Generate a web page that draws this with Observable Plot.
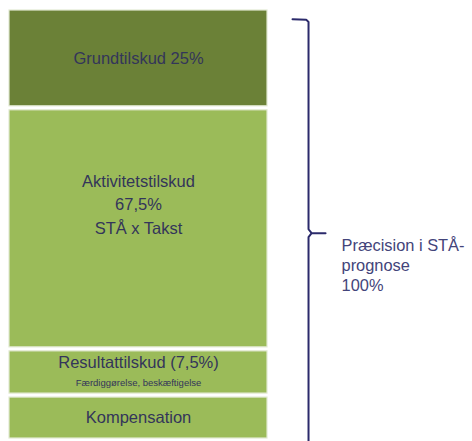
<!DOCTYPE html>
<html><head><meta charset="utf-8">
<script src="https://cdn.jsdelivr.net/npm/d3@7"></script>
<script src="https://cdn.jsdelivr.net/npm/@observablehq/plot@0.6"></script>
<style>html,body{margin:0;padding:0;background:#fff;overflow:hidden} svg{display:block}</style>
</head><body><div id="chart"></div>
<script>
// Data
const categories = ["Grundtilskud", "Aktivitetstilskud", "Resultattilskud", "Kompensation"];
const labels = ["Grundtilskud 25%", "Aktivitetstilskud\n67,5%\nSTÅ x Takst", "Resultattilskud (7,5%)", "Kompensation"];
const subLabels = ["", "", "Færdiggørelse, beskæftigelse", ""];
const drawnShare = [23.1, 55.8, 10.7, 10.4]; // relative block heights as drawn (not to scale with %)
const bracketLabel = "Præcision i STÅ-\nprognose\n100%";

// Styles
const blockColors = ["#6b8137", "#9bbb59", "#9bbb59", "#9bbb59"];
const labelColor = "#33355a";
const bracketColor = "#2b2a6b";
const font = "Liberation Sans, Arial, Helvetica, sans-serif";

// Stack blocks top to bottom
let acc = 0;
const blocks = categories.map((c, i) => {
  const y1 = acc; acc += drawnShare[i];
  return {category: c, label: labels[i], sub: subLabels[i], y1, y2: acc, mid: (y1 + acc) / 2};
});
const total = acc;

// Bracket annotation spanning the whole stack
const bTop = total * 0.025, bBottom = total * 1.015, bMid = (bTop + bBottom) / 2;
const bx = 1.159;
const bracket = [
  {x: 1.097, y: bTop}, {x: 1.150, y: bTop + 0.1}, {x: bx, y: bTop + 0.6},
  {x: bx, y: bMid - 0.9}, {x: 1.171, y: bMid}, {x: 1.225, y: bMid},
  {x: 1.171, y: bMid}, {x: bx, y: bMid + 0.9}, {x: bx, y: bBottom}
];

const byCat = c => d => d.category === c;
const textBase = {x: () => 0.5, y: "mid", fill: labelColor, fontFamily: font, fontSize: 16.5, textAnchor: "middle", lineAnchor: "middle"};

const chart = Plot.plot({
  width: 472, height: 441,
  marginTop: 8, marginBottom: 1, marginLeft: 9, marginRight: 205,
  style: {fontFamily: font, background: "#fff", overflow: "hidden"},
  x: {domain: [0, 1], axis: null},
  y: {domain: [0, total], reverse: true, axis: null},
  color: {domain: categories, range: blockColors},
  marks: [
    Plot.rect(blocks, {x1: () => 0, x2: () => 1, y1: "y1", y2: "y2", insetTop: 2, insetBottom: 2,
      fill: "category", stroke: "#e2e9d2", strokeWidth: 1.2}),
    Plot.text(blocks, {...textBase, filter: byCat("Grundtilskud"), text: "label"}),
    Plot.text(blocks, {...textBase, filter: byCat("Aktivitetstilskud"), text: "label", dy: -26, lineHeight: 1.42}),
    Plot.text(blocks, {...textBase, filter: byCat("Resultattilskud"), text: "label", dy: -9.5}),
    Plot.text(blocks, {...textBase, filter: byCat("Resultattilskud"), text: "sub", dy: 10.5, fontSize: 9.5}),
    Plot.text(blocks, {...textBase, filter: byCat("Kompensation"), text: "label"}),
    Plot.line(bracket, {x: "x", y: "y", stroke: bracketColor, strokeWidth: 2, strokeLinejoin: "round", curve: "linear"}),
    Plot.text([bracketLabel], {x: () => 1.287, y: () => bMid, text: d => d, textAnchor: "start", lineAnchor: "middle",
      dy: 31.5, lineHeight: 1.24, fontSize: 16.4, fill: "#43447a", fontFamily: font})
  ]
});
document.getElementById("chart").appendChild(chart);
</script>
</body></html>
